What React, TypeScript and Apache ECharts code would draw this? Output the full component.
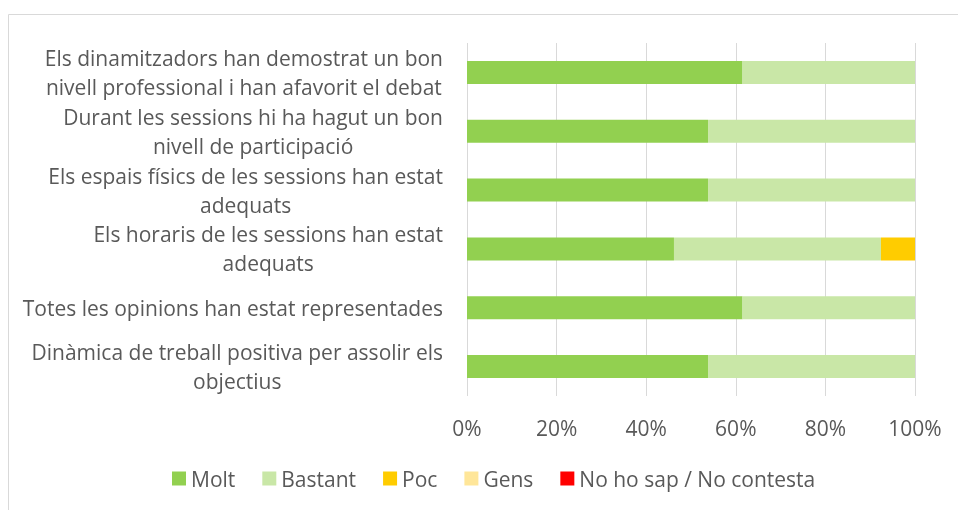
import React, { useEffect, useRef } from "react";
import * as echarts from "echarts";

const categories = [
  "Els dinamitzadors han demostrat un bon\nnivell professional i han afavorit el debat",
  "Durant les sessions hi ha hagut un bon\nnivell de participació",
  "Els espais físics de les sessions han estat\nadequats",
  "Els horaris de les sessions han estat\nadequats",
  "Totes les opinions han estat representades",
  "Dinàmica de treball positiva per assolir els\nobjectius",
];

const seriesNames = ["Molt", "Bastant", "Poc", "Gens", "No ho sap / No contesta"];
const molt = [61.5, 53.8, 53.8, 46.2, 61.5, 53.8];
const bastant = [38.5, 46.2, 46.2, 46.2, 38.5, 46.2];
const poc = [0, 0, 0, 7.6, 0, 0];
const gens = [0, 0, 0, 0, 0, 0];
const nsnc = [0, 0, 0, 0, 0, 0];
const colors = ["#92D050", "#C9E7A7", "#FFCC00", "#FFE699", "#FF0000"];
const xTicks = [0, 20, 40, 60, 80, 100];

const FONT = "'Open Sans', Roboto, sans-serif";
const TEXT = "#595959";
const FS = 21;

export default function App() {
  const ref = useRef<HTMLDivElement>(null);
  useEffect(() => {
    if (!ref.current) return;
    const chart = echarts.init(ref.current, undefined, { renderer: "svg" });
    const values = [molt, bastant, poc, gens, nsnc];
    chart.setOption({
      animation: false,
      textStyle: { fontFamily: FONT },
      graphic: [
        {
          type: "rect",
          shape: { x: 8.5, y: 14.5, width: 1000, height: 600 },
          style: { fill: "none", stroke: "#d9d9d9", lineWidth: 1 },
          silent: true,
        },
      ],
      grid: { left: 467, right: 43, top: 43, bottom: 114, containLabel: false },
      legend: {
        top: 468,
        left: 172,
        itemWidth: 14,
        itemHeight: 14,
        itemGap: 27,
        icon: "rect",
        padding: 0,
        textStyle: { color: TEXT, fontSize: FS, fontFamily: FONT },
        data: seriesNames,
      },
      xAxis: {
        type: "value",
        min: 0,
        max: 100,
        interval: 20,
        axisLine: { show: false },
        axisTick: { show: false },
        splitLine: { lineStyle: { color: "#d9d9d9", width: 1 } },
        axisLabel: {
          color: TEXT,
          fontSize: FS,
          margin: 21,
          formatter: (v: number) => (xTicks.includes(v) ? `${v}%` : ""),
        },
      },
      yAxis: {
        type: "category",
        inverse: true,
        data: categories,
        axisLine: { show: false },
        axisTick: { show: false },
        axisLabel: {
          color: TEXT,
          fontSize: FS,
          margin: 24,
          align: "right",
          formatter: (v: string) =>
            v
              .split("\n")
              .map((l) => `{c|${l}}`)
              .join("\n"),
          rich: {
            c: {
              align: "center",
              color: TEXT,
              fontSize: FS,
              fontFamily: FONT,
              lineHeight: 29,
            },
          },
        },
      },
      series: seriesNames.map((name, i) => ({
        name,
        type: "bar",
        stack: "total",
        barWidth: 23,
        itemStyle: { color: colors[i] },
        data: values[i],
      })),
    });
    return () => chart.dispose();
  }, []);
  return (
    <div
      ref={ref}
      style={{ position: "fixed", left: 0, top: 0, width: 958, height: 510 }}
    />
  );
}
